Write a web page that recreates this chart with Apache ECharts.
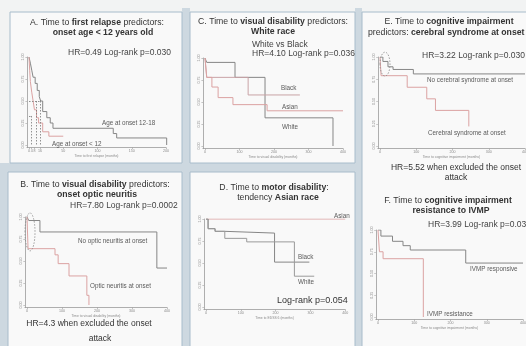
<!DOCTYPE html>
<html><head><meta charset="utf-8">
<script src="https://cdn.jsdelivr.net/npm/echarts@6/dist/echarts.min.js"></script>
<style>html,body{margin:0;padding:0;background:#f2f3f3}#c{width:526px;height:346px}</style>
</head><body><div id="c"></div>
<script>
// ---------------- data ----------------
const yTicks = [0, 0.25, 0.5, 0.75, 1];
const xTicksA = [0, 4, 8, 16, 50, 100, 150, 200];
const xTicks400 = [0, 100, 200, 300, 400];

// A. first relapse
const aAge1218 = [[0,1],[2,0.93],[4,0.85],[6,0.77],[9,0.7],[12,0.62],[15,0.55],[17,0.5],[20,0.38],[26,0.31],[31,0.25],[35,0.19],[123,0.13],[128,0.08],[201,0]];
const aAgeUnder12 = [[0,1],[1,0.85],[2,0.72],[4,0.6],[6,0.5],[8,0.4],[11,0.31],[14,0.25],[20,0.15],[29,0.1],[50,0.1]];
const aQuartileLines = [[0,0.5,17,0.5],[10,0.5,10,0],[17,0.5,17,0],[0,0.33,4,0.33],[4,0.33,4,0]];

// B. visual disability, optic neuritis
const bNoOptic = [[0,1],[5,0.96],[37,0.83],[371,0.42],[400,0.42]];
const bOptic = [[0,1],[3,0.64],[80,0.57],[89,0.47],[120,0.33],[171,0.11],[177,0]];

// C. visual disability by race
const cWhite = [[0,1],[5,0.95],[87,0.78],[174,0.32],[371,0]];
const cBlack = [[0,1],[5,0.78],[125,0.58],[275,0.58]];
const cAsian = [[0,1],[5,0.78],[20,0.67],[38,0.55],[81,0.47],[180,0.4],[400,0.4]];

// D. motor disability by race
const dAsian = [[0,1],[400,1]];
const dBlack = [[0,1],[6,0.89],[26,0.86],[54,0.84],[197,0.51],[297,0.51]];
const dWhite = [[0,1],[6,0.89],[26,0.86],[54,0.78],[117,0.74],[254,0.35],[311,0.35]];

// E. cognitive impairment, cerebral syndrome
const eNoCerebral = [[0,1],[8,0.95],[22,0.89],[36,0.86],[92,0.81],[400,0.81]];
const eCerebral = [[0,1],[3,0.79],[75,0.66],[129,0.53],[153,0.4],[245,0.22]];

// F. cognitive impairment, IVMP
const fResponsive = [[0,1],[8,0.93],[40,0.87],[69,0.82],[89,0.77],[242,0.62],[400,0.62]];
const fResistance = [[0,1],[4,0.75],[14,0.67],[125,0]];

// ---------------- layout ----------------
const FONT = '"Liberation Sans", Arial, sans-serif';
const GRAY = '#868686', PINK = '#dba2a2';
const P = [
  {x0:29, y1:57, y0:145, s:0.685, xmax:200, xmin:-3, ticks:xTicksA, name:'Time to first relapse (months)'},
  {x0:27, y1:217, y0:305, s:0.35, xmax:400, xmin:-6, ticks:xTicks400, name:'Time to visual disability (months)'},
  {x0:205, y1:58, y0:146, s:0.345, xmax:400, xmin:-6, ticks:xTicks400, name:'Time to visual disability (months)'},
  {x0:206, y1:219, y0:307, s:0.348, xmax:400, xmin:-6, ticks:xTicks400, name:'Time to EDSS 6 (months)'},
  {x0:380, y1:57, y0:146, s:0.3625, xmax:400, xmin:-6, ticks:xTicks400, name:'Time to cognitive impairment (months)'},
  {x0:378, y1:230, y0:317, s:0.3625, xmax:400, xmin:-6, ticks:xTicks400, name:'Time to cognitive impairment (months)'}
];
const YMIN = -0.03;

const grids = [], xAxes = [], yAxes = [];
P.forEach((p, i) => {
  const hy = p.y0 - p.y1;
  grids.push({left: p.x0 + p.xmin * p.s, top: p.y1, width: (p.xmax - p.xmin) * p.s,
    height: hy * (1 - YMIN), outerBoundsMode: 'none', containLabel: false});
  xAxes.push({type:'value', gridIndex:i, min:p.xmin, max:p.xmax,
    axisLine:{show:true, onZero:false, lineStyle:{color:'#9a9a9a', width:0.8}},
    axisTick:{show:true, length:1.5, customValues:p.ticks, lineStyle:{color:'#9a9a9a', width:0.6}},
    axisLabel:{customValues:p.ticks, fontSize:3.6, color:'#8a8a8a', margin:1.5, fontFamily:FONT},
    splitLine:{show:false},
    name:p.name, nameLocation:'middle', nameGap:6.5, nameTextStyle:{fontSize:3.4, color:'#8a8a8a', fontFamily:FONT}});
  yAxes.push({type:'value', gridIndex:i, min:YMIN, max:1,
    axisLine:{show:true, onZero:false, lineStyle:{color:'#9a9a9a', width:0.8}},
    axisTick:{show:true, length:1.5, customValues:yTicks, lineStyle:{color:'#9a9a9a', width:0.6}},
    axisLabel:{customValues:yTicks, rotate:90, fontSize:3.6, color:'#8a8a8a', margin:2, fontFamily:FONT,
      formatter: v => v.toFixed(2)},
    splitLine:{show:false}});
});

function km(data, g, color, extra) {
  return Object.assign({type:'line', xAxisIndex:g, yAxisIndex:g, data:data, step:'end',
    symbol:'none', showSymbol:false, silent:true, clip:true,
    lineStyle:{color:color, width:1}}, extra || {});
}

const series = [
  km(aAge1218, 0, GRAY),
  km(aAgeUnder12, 0, PINK, {markLine:{symbol:['none','none'], silent:true, label:{show:false},
    lineStyle:{type:[1.5,1.5], color:'#777', width:0.8},
    data: aQuartileLines.map(s => [{coord:[s[0], s[1]]}, {coord:[s[2], s[3]]}])}}),
  km(bNoOptic, 1, GRAY), km(bOptic, 1, PINK),
  km(cWhite, 2, GRAY), km(cBlack, 2, '#c9a3a6'), km(cAsian, 2, PINK),
  km(dAsian, 3, PINK), km(dBlack, 3, GRAY), km(dWhite, 3, '#9a9a9a'),
  km(eNoCerebral, 4, GRAY), km(eCerebral, 4, PINK),
  km(fResponsive, 5, GRAY), km(fResistance, 5, PINK)
];

const BAND = '#cdd8e0', FRAME = '#a8bccb', PANEL = '#f9f9f9';
const frames = [
  {type:'rect', z:-20, shape:{x:182, y:8, width:8, height:340}, style:{fill:BAND}},
  {type:'rect', z:-20, shape:{x:355, y:8, width:7, height:340}, style:{fill:BAND}},
  {type:'rect', z:-20, shape:{x:0, y:163, width:362, height:9}, style:{fill:BAND}},
  {type:'rect', z:-20, shape:{x:0, y:163, width:8, height:190}, style:{fill:BAND}},
  {type:'rect', z:-10, shape:{x:10, y:12, width:172, height:151}, style:{fill:PANEL, stroke:FRAME, lineWidth:1}},
  {type:'rect', z:-10, shape:{x:190, y:12, width:165, height:151}, style:{fill:PANEL, stroke:FRAME, lineWidth:1}},
  {type:'rect', z:-10, shape:{x:362, y:12, width:180, height:350}, style:{fill:PANEL, stroke:FRAME, lineWidth:1}},
  {type:'rect', z:-10, shape:{x:8, y:172, width:174, height:190}, style:{fill:PANEL, stroke:FRAME, lineWidth:1}},
  {type:'rect', z:-10, shape:{x:190, y:172, width:165, height:190}, style:{fill:PANEL, stroke:FRAME, lineWidth:1}}
];

function txt(text, x, y, size, align, color, extra) {
  return {type:'text', z:50, x:x, y:y, style:Object.assign({text:text, font:size + 'px ' + FONT,
    fill:color || '#333', align:align || 'left', verticalAlign:'middle',
    rich:{b:{fontWeight:'bold', fontSize:size, fontFamily:FONT, fill:color || '#333'}}}, extra || {})};
}
const T = 8.7, H = 8.5, L = 6.3, LC = '#5a5a5a';
const texts = [
  txt('A. Time to {b|first relapse} predictors:', 97, 23, T, 'center'),
  txt('{b|onset age < 12 years old}', 103, 33, T, 'center'),
  txt('HR=0.49 Log-rank p=0.030', 68, 53, H, 'left', '#444'),
  txt('Age at onset 12-18', 102, 123, L, 'left', LC),
  txt('Age at onset < 12', 52, 144, L, 'left', LC),

  txt('C. Time to {b|visual disability} predictors:', 273, 22, T, 'center'),
  txt('{b|White race}', 273, 32, T, 'center'),
  txt('White vs Black', 252, 45, H, 'left', '#444'),
  txt('HR=4.10 Log-rank p=0.036', 252, 54, H, 'left', '#444'),
  txt('Black', 281, 88, L, 'left', LC),
  txt('Asian', 282, 107, L, 'left', LC),
  txt('White', 282, 127, L, 'left', LC),

  txt('E. Time to {b|cognitive impairment}', 449, 22, T, 'center'),
  txt('predictors: {b|cerebral syndrome at onset}', 368, 33, T, 'left'),
  txt('HR=3.22 Log-rank p=0.030', 422, 56, H, 'left', '#444'),
  txt('No cerebral syndrome at onset', 427, 80, L, 'left', LC),
  txt('Cerebral syndrome at onset', 428, 133, L, 'left', LC),
  txt('HR=5.52 when excluded the onset', 456, 168, H, 'center', '#333'),
  txt('attack', 456, 178, H, 'center', '#333'),

  txt('F. Time to {b|cognitive impairment}', 448, 201, T, 'center'),
  txt('{b|resistance to IVMP}', 451, 211, T, 'center'),
  txt('HR=3.99 Log-rank p=0.035', 428, 225, H, 'left', '#444'),
  txt('IVMP responsive', 470, 269, L, 'left', LC),
  txt('IVMP resistance', 427, 314, L, 'left', LC),

  txt('B. Time to {b|visual disability} predictors:', 95, 185, T, 'center'),
  txt('{b|onset optic neuritis}', 97, 195, T, 'center'),
  txt('HR=7.80 Log-rank p=0.0002', 70, 206, H, 'left', '#444'),
  txt('No optic neuritis at onset', 78, 241, L, 'left', LC),
  txt('Optic neuritis at onset', 90, 286, L, 'left', LC),
  txt('HR=4.3 when excluded the onset', 89, 324, H, 'center', '#333'),
  txt('attack', 100, 339, H, 'center', '#333'),

  txt('D. Time to {b|motor disability}:', 274, 188, T, 'center'),
  txt('tendency {b|Asian race}', 278, 198, T, 'center'),
  txt('Asian', 334, 216, L, 'left', LC),
  txt('Black', 298, 257, L, 'left', LC),
  txt('White', 298, 282, L, 'left', LC),
  txt('Log-rank p=0.054', 277, 301, 9, 'left', '#333')
];

const chart = echarts.init(document.getElementById('c'), null, {renderer:'canvas'});
chart.setOption({
  animation:false,
  backgroundColor:'#f2f3f3',
  grid:grids, xAxis:xAxes, yAxis:yAxes, series:series,
  graphic:{elements: frames.concat(texts)}
});

const ellipses = [
  {g:1, at:[8.6, 0.83], rx:5, ry:19},
  {g:4, at:[13.8, 0.92], rx:5, ry:12}
];
const ell = ellipses.map(e => {
  const c = chart.convertToPixel({gridIndex:e.g}, e.at);
  return {type:'ellipse', z:60, shape:{cx:c[0], cy:c[1], rx:e.rx, ry:e.ry},
    style:{fill:'none', stroke:'#8a8a8a', lineWidth:0.8, lineDash:[1.5,1.5]}};
});
chart.setOption({graphic:{elements: frames.concat(texts, ell)}});
</script></body></html>
